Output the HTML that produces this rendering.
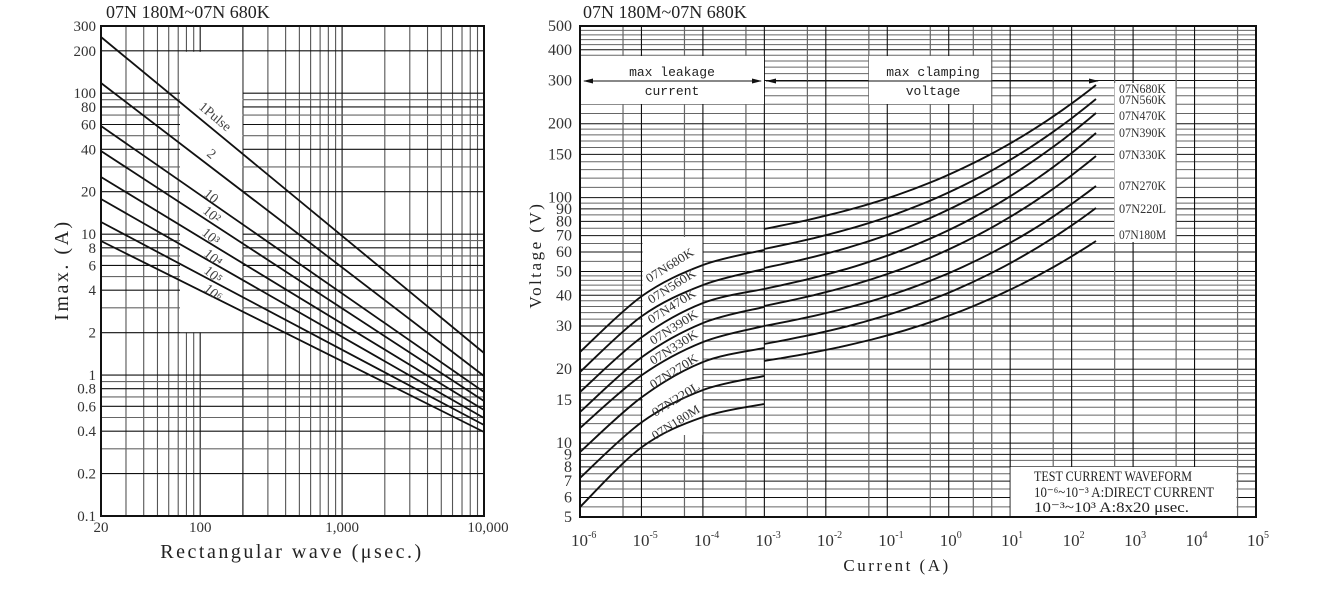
<!DOCTYPE html>
<html><head><meta charset="utf-8"><style>
html,body{margin:0;padding:0;background:#fff;}
svg{display:block;font-family:"Liberation Serif",serif;}
</style></head><body>
<svg id="s" width="1323" height="598" viewBox="0 0 1323 598" xmlns="http://www.w3.org/2000/svg">
<g id="g"></g>
</svg>
<script>
var NS="http://www.w3.org/2000/svg",G=document.getElementById('g');
function el(t,a,txt){var e=document.createElementNS(NS,t);for(var k in a)e.setAttribute(k,a[k]);if(txt!==undefined)e.textContent=txt;G.appendChild(e);return e;}
function L(x1,y1,x2,y2,c,w){el('line',{x1:x1,y1:y1,x2:x2,y2:y2,stroke:c||'#444','stroke-width':w||1});}
// ---------- LEFT CHART ----------
var lx0=101,lx1=484,ly0=26,ly1=516;
function LX(v){return lx0+Math.log10(v/20)*(lx1-lx0)/Math.log10(500);}
function LY(v){return ly0+Math.log10(300/v)*(ly1-ly0)/Math.log10(3000);}
var xs=[];for(var v=30;v<=100;v+=10)xs.push(v);for(v=200;v<=1000;v+=100)xs.push(v);for(v=2000;v<=10000;v+=1000)xs.push(v);
xs.forEach(function(v){var x=LX(v);L(x,ly0,x,ly1,(v==100||v==1000||v==200)?'#111':'#555',1.1);});
var ys=[];for(v=0.1;v<0.95;v+=0.1)ys.push(+v.toFixed(1));for(v=1;v<10;v++)ys.push(v);for(v=10;v<100;v+=10)ys.push(v);ys.push(100,200);
ys.forEach(function(v){var y=LY(v);var maj=[0.1,0.2,0.4,0.6,0.8,1,2,4,6,8,10,20,40,60,80,100,200].indexOf(v)>=0;L(lx0,y,lx1,y,maj?'#111':'#666',1.1);});
el('rect',{x:180,y:LY(200)+1,width:62.5,height:LY(2)-LY(200)-1.5,fill:'#fff'});
el('rect',{x:lx0,y:ly0,width:lx1-lx0,height:ly1-ly0,fill:'none',stroke:'#111','stroke-width':2});
var ll=[[37,353],[83,376],[126,392],[151,401],[177,410],[199,418],[222,425],[241,432]];
ll.forEach(function(p){L(lx0,p[0],lx1,p[1],'#111',1.8);});
var lab=[['1Pulse',198,108],['2',206,155],['10',203,195],['10²',202,212],['10³',201,234],['10⁴',203,255],['10⁵',203,272],['10⁶',203,290]];
lab.forEach(function(a){el('text',{x:a[1],y:a[2],'font-size':14,fill:'#444',transform:'rotate(40 '+a[1]+' '+a[2]+')'},a[0]);});
[['300',300],['200',200],['100',100],['80',80],['60',60],['40',40],['20',20],['10',10],['8',8],['6',6],['4',4],['2',2],['1',1],['0.8',0.8],['0.6',0.6],['0.4',0.4],['0.2',0.2],['0.1',0.1]].forEach(function(a){
el('text',{x:96,y:LY(a[1])+5,'font-size':15,'text-anchor':'end',fill:'#333'},a[0]);});
[['20',20],['100',100],['1,000',1000],['10,000',10000]].forEach(function(a){
el('text',{x:LX(a[1])+(a[1]==10000?4:0),y:532,'font-size':15,'text-anchor':'middle',fill:'#333'},a[0]);});
el('text',{x:292,y:558,'font-size':20,'text-anchor':'middle','letter-spacing':'2.5',fill:'#222'},'Rectangular wave (μsec.)');
el('text',{x:68,y:270,'font-size':20,'text-anchor':'middle','letter-spacing':'2.5',fill:'#222',transform:'rotate(-90 68 270)'},'Imax. (A)');
el('text',{x:106,y:18,'font-size':18,fill:'#222'},'07N 180M~07N 680K');
// ---------- RIGHT CHART ----------
var rx0=580,rx1=1256,ry0=26,ry1=517,dec=(rx1-rx0)/11;
function RX(e){return rx0+(e+6)*dec;}
function RY(v){return ry0+Math.log10(500/v)*(ry1-ry0)/2;}
var hv=[];for(v=5.5;v<10;v+=0.5)hv.push(v);for(v=10;v<20;v+=1)hv.push(v);for(v=20;v<50;v+=2)hv.push(v);for(v=50;v<100;v+=5)hv.push(v);for(v=100;v<200;v+=10)hv.push(v);for(v=200;v<500;v+=20)hv.push(v);
var majR=[6,7,8,9,10,15,20,30,40,50,60,70,80,90,100,150,200,300,400];
hv.forEach(function(v){var y=RY(v);L(rx0,y,rx1,y,majR.indexOf(v)>=0?'#111':'#666',1);});
for(var n=-6;n<=4;n++){L(RX(n),ry0,RX(n),ry1,'#111',1.1);L(RX(n+0.7),ry0,RX(n+0.7),ry1,'#666',1.2);}
L(RX(0.4),ry0,RX(0.4),ry1,'#666',1.2);
el('rect',{x:581,y:56,width:183,height:48,fill:'#fff'});
el('rect',{x:869,y:56,width:122,height:48,fill:'#fff'});
el('rect',{x:642.5,y:237,width:60,height:198,fill:'#fff'});
el('rect',{x:1114.5,y:83,width:61,height:159,fill:'#fff'});
el('rect',{x:1010.5,y:467,width:226,height:50,fill:'#fff'});
el('rect',{x:rx0,y:ry0,width:rx1-rx0,height:ry1-ry0,fill:'none',stroke:'#111','stroke-width':2});
L(584,81,761,81,'#111',1);L(766,81,1098,81,'#111',1);
el('polygon',{points:'583,81 593,78.5 593,83.5',fill:'#111'});
el('polygon',{points:'762,81 752,78.5 752,83.5',fill:'#111'});
el('polygon',{points:'766,81 776,78.5 776,83.5',fill:'#111'});
el('polygon',{points:'1099,81 1089,78.5 1089,83.5',fill:'#111'});
el('rect',{x:620,y:64,width:104,height:15,fill:'#fff'});el('rect',{x:630,y:84,width:84,height:15,fill:'#fff'});
el('rect',{x:880,y:64,width:104,height:15,fill:'#fff'});el('rect',{x:900,y:84,width:70,height:15,fill:'#fff'});
el('text',{x:672,y:76,'font-size':13,'text-anchor':'middle','font-family':'Liberation Mono, monospace',fill:'#222'},'max leakage');
el('text',{x:672,y:95,'font-size':13,'text-anchor':'middle','font-family':'Liberation Mono, monospace',fill:'#222'},'current');
el('text',{x:933,y:76,'font-size':13,'text-anchor':'middle','font-family':'Liberation Mono, monospace',fill:'#222'},'max clamping');
el('text',{x:933,y:95,'font-size':13,'text-anchor':'middle','font-family':'Liberation Mono, monospace',fill:'#222'},'voltage');
var xsL=[580,642,703,764];
var cl=[[352,296,265,250],[372,316,285,269],[392,337,303,289],[412,357,323,307],[428,375,342,326],[452,397,362,348],[478,422,390,376],[507,447,417,404]];
function cr(px,py){var d='M'+px[0]+','+py[0];for(var i=0;i<px.length-1;i++){var x0=px[Math.max(0,i-1)],y0=py[Math.max(0,i-1)],x3=px[Math.min(px.length-1,i+2)],y3=py[Math.min(px.length-1,i+2)];
var c1x=px[i]+(px[i+1]-x0)/6,c1y=py[i]+(py[i+1]-y0)/6,c2x=px[i+1]-(x3-px[i])/6,c2y=py[i+1]-(y3-py[i])/6;d+=' C'+c1x+','+c1y+' '+c2x+','+c2y+' '+px[i+1]+','+py[i+1];}return d;}
cl.forEach(function(c){el('path',{d:cr(xsL,c),fill:'none',stroke:'#111','stroke-width':1.9});});
var st=[229,249,268,289,306,326,344,361],en=[85,99,113,133,156,186,208,241];
for(var i=0;i<8;i++){var d='';for(var k=0;k<=40;k++){var t=k/40,x=764+332*t,y=st[i]-(st[i]-en[i])*(0.45*t+0.55*Math.pow(t,2.5));d+=(k?' L':'M')+x.toFixed(1)+','+y.toFixed(1);}el('path',{d:d,fill:'none',stroke:'#111','stroke-width':1.9});}
var rl=[['07N680K',649,283],['07N560K',651,304],['07N470K',651,324],['07N390K',653,345],['07N330K',653,365],['07N270K',653,389],['07N220L',655,417],['07N180M',655,440]];
rl.forEach(function(a){el('text',{x:a[1],y:a[2],'font-size':12.5,fill:'#333',transform:'rotate(-32 '+a[1]+' '+a[2]+')',textLength:54,lengthAdjust:'spacingAndGlyphs'},a[0]);});
var rr=[['07N680K',93],['07N560K',104],['07N470K',120],['07N390K',137],['07N330K',159],['07N270K',190],['07N220L',213],['07N180M',239]];
rr.forEach(function(a){el('text',{x:1119,y:a[1],'font-size':13,fill:'#333',textLength:47,lengthAdjust:'spacingAndGlyphs'},a[0]);});
[500,400,300,200,150,100,90,80,70,60,50,40,30,20,15,10,9,8,7,6,5].forEach(function(a){
el('text',{x:572,y:RY(a)+5,'font-size':16,'text-anchor':'end',fill:'#333'},String(a));});
for(n=-6;n<=5;n++){var tx=el('text',{x:RX(n)-9,y:546,'font-size':17,fill:'#333'});tx.textContent='10';var ts=document.createElementNS(NS,'tspan');ts.setAttribute('dy','-8');ts.setAttribute('font-size','10');ts.textContent=(n<0?'-':'')+Math.abs(n);tx.appendChild(ts);}
el('text',{x:897,y:571,'font-size':17,'text-anchor':'middle','letter-spacing':'2.5',fill:'#222'},'Current (A)');
el('text',{x:541,y:255,'font-size':17,'text-anchor':'middle','letter-spacing':'2.5',fill:'#222',transform:'rotate(-90 541 255)'},'Voltage (V)');
el('text',{x:583,y:18,'font-size':18,fill:'#222'},'07N 180M~07N 680K');
el('text',{x:1034,y:481,'font-size':14.5,fill:'#222',textLength:158,lengthAdjust:'spacingAndGlyphs'},'TEST CURRENT WAVEFORM');
el('text',{x:1034,y:497,'font-size':14.5,fill:'#222',textLength:180,lengthAdjust:'spacingAndGlyphs'},'10⁻⁶~10⁻³ A:DIRECT CURRENT');
el('text',{x:1034,y:512,'font-size':14.5,fill:'#222',textLength:155,lengthAdjust:'spacingAndGlyphs'},'10⁻³~10³ A:8x20 μsec.');
</script>
</body></html>
